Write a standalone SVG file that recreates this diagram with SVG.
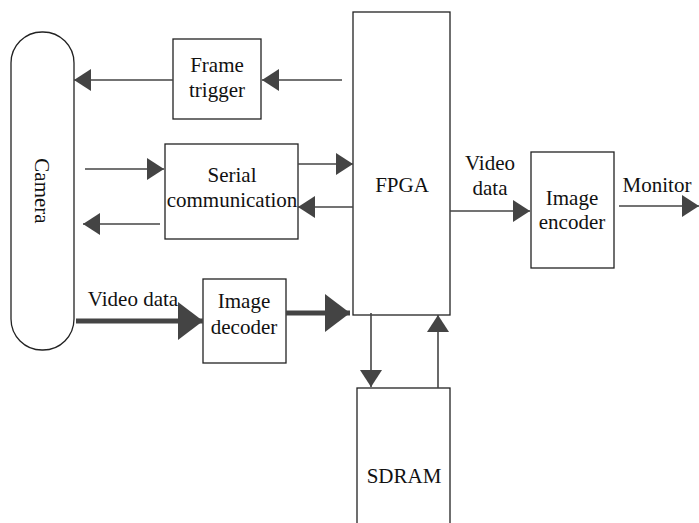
<svg xmlns="http://www.w3.org/2000/svg" width="699" height="523" viewBox="0 0 699 523">
<style>
.box{fill:#fff;stroke:#222;stroke-width:1.3}
.t{font-family:'Liberation Serif','Times New Roman','DejaVu Serif',serif;font-size:21px;fill:#111;text-anchor:middle}
.ln{stroke:#444;stroke-width:1.6;fill:none}
.thick{stroke:#444;stroke-width:5;fill:none}
</style>
<defs>
<marker id="ah" viewBox="0 0 17 22" refX="17" refY="11" markerWidth="17" markerHeight="22" markerUnits="userSpaceOnUse" orient="auto">
<path d="M0,0 L17,11 L0,22 z" fill="#444"/>
</marker>
<marker id="ahb" viewBox="0 0 25 38" refX="25" refY="19" markerWidth="25" markerHeight="38" markerUnits="userSpaceOnUse" orient="auto">
<path d="M0,0 L25,19 L0,38 z" fill="#444"/>
</marker>
</defs>
<rect width="699" height="523" fill="#fff"/>
<g id="camera">
<rect class="box" x="11" y="32" width="63" height="318" rx="31" ry="31"/>
<text class="t" transform="translate(35,191) rotate(90)">Camera</text>
</g>
<g id="frame-trigger">
<rect class="box" x="173" y="39" width="88" height="80"/>
<text class="t" x="217" y="72">Frame</text>
<text class="t" x="217" y="97">trigger</text>
</g>
<g id="serial">
<rect class="box" x="165" y="144" width="133" height="95"/>
<text class="t" x="232" y="182">Serial</text>
<text class="t" x="232" y="207">communication</text>
</g>
<g id="decoder">
<rect class="box" x="203" y="279" width="83" height="84"/>
<text class="t" x="244" y="308">Image</text>
<text class="t" x="244" y="334">decoder</text>
</g>
<g id="fpga">
<rect class="box" x="353" y="12" width="97" height="303"/>
<text class="t" x="402" y="192">FPGA</text>
</g>
<g id="sdram">
<rect class="box" x="357" y="388" width="93" height="140"/>
<text class="t" x="404" y="483">SDRAM</text>
</g>
<g id="encoder">
<rect class="box" x="531" y="152" width="83" height="116"/>
<text class="t" x="572" y="205">Image</text>
<text class="t" x="572" y="229">encoder</text>
</g>
<g id="connectors">
<line class="ln" x1="342" y1="80" x2="262" y2="80" marker-end="url(#ah)"/>
<line class="ln" x1="173" y1="80" x2="74" y2="80" marker-end="url(#ah)"/>
<line class="ln" x1="85" y1="169" x2="164" y2="169" marker-end="url(#ah)"/>
<line class="ln" x1="298" y1="164" x2="353" y2="164" marker-end="url(#ah)"/>
<line class="ln" x1="353" y1="207" x2="298" y2="207" marker-end="url(#ah)"/>
<line class="ln" x1="160" y1="224" x2="83" y2="224" marker-end="url(#ah)"/>
<line class="thick" x1="76" y1="321" x2="203" y2="321" marker-end="url(#ahb)"/>
<line class="thick" x1="286" y1="313" x2="350" y2="313" marker-end="url(#ahb)"/>
<line class="ln" x1="371" y1="313" x2="371" y2="387" marker-end="url(#ah)"/>
<line class="ln" x1="438" y1="388" x2="438" y2="315" marker-end="url(#ah)"/>
<line class="ln" x1="450" y1="211" x2="530" y2="211" marker-end="url(#ah)"/>
<line class="ln" x1="619" y1="206" x2="699" y2="206" marker-end="url(#ah)"/>
<text class="t" x="133" y="306">Video data</text>
<text class="t" x="490" y="170">Video</text>
<text class="t" x="490" y="195">data</text>
<text class="t" x="657" y="192">Monitor</text>
</g>
</svg>
